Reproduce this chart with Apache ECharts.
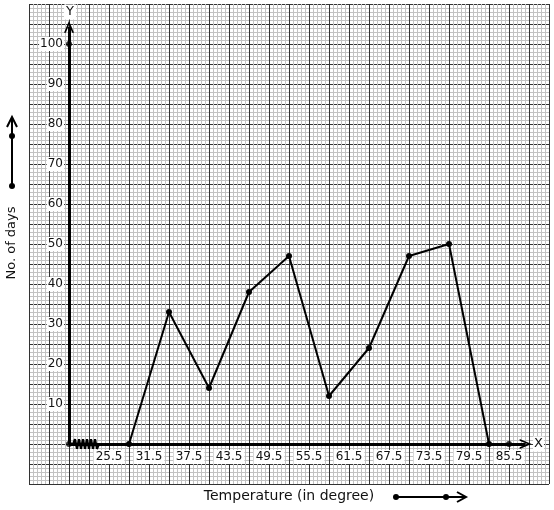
<!DOCTYPE html>
<html><head><meta charset="utf-8">
<script src="https://cdn.jsdelivr.net/npm/echarts@6/dist/echarts.min.js"></script>
<style>html,body{margin:0;padding:0;background:#fff}#c{width:554px;height:510px}</style>
</head><body><div id="c"></div>
<script>
// Frequency polygon data (class marks vs number of days)
const classMarks = [28.5, 34.5, 40.5, 46.5, 52.5, 58.5, 64.5, 70.5, 76.5, 82.5];
const days = [0, 33, 14, 38, 47, 12, 24, 47, 50, 0];
// tick labels
const xTickLabels = [25.5, 31.5, 37.5, 43.5, 49.5, 55.5, 61.5, 67.5, 73.5, 79.5, 85.5];
const yTickLabels = [10, 20, 30, 40, 50, 60, 70, 80, 90, 100];
// extra marked points (origin, 100 on Y, 85.5 on X)
const extraX = [19.5, 19.5, 85.5];
const extraY = [0, 100, 0];
// axis-break zigzag (kink) on the X axis
const breakX = [20.1, 20.4, 20.7, 21.0, 21.3, 21.6, 21.9, 22.2, 22.5, 22.8, 23.1, 23.4, 23.7, 24.0];
const breakY = [0, 1.2, -1.2, 1.2, -1.2, 1.2, -1.2, 1.2, -1.2, 1.2, -1.2, 1.2, -1.2, 0];
// axes drawn from origin
const origin = [19.5, 0];
const xAxisEnd = [88.0, 0];
const yAxisEnd = [19.5, 104.3];

const FONT = 'DejaVu Sans';
const chevron = 'path://M0,12 L5,0 L10,12 L8.2,12 L5,4.2 L1.8,12 Z';
const yRange = {type: 'value', min: -10, max: 110, interval: 5, position: 'left', offset: -40};

const chart = echarts.init(document.getElementById('c'), null, {renderer: 'canvas'});
chart.setOption({
  animation: false,
  backgroundColor: '#fff',
  grid: {left: 29, right: 5, top: 4, bottom: 26, containLabel: false},
  xAxis: {
    type: 'value', min: 13.5, max: 91.5, interval: 3,
    position: 'bottom', offset: -40, z: 2,
    axisLine: {show: false, onZero: false}, axisTick: {show: false},
    axisLabel: {
      customValues: xTickLabels,
      formatter: v => v.toFixed(1),
      fontFamily: FONT, fontSize: 12, color: '#111', margin: 6,
      backgroundColor: '#fff', padding: [1, 2]
    },
    splitLine: {show: true, lineStyle: {color: '#333', width: 1}},
    minorTick: {show: false, splitNumber: 5},
    minorSplitLine: {show: true, lineStyle: {color: '#c2c2c2', width: 1}}
  },
  yAxis: [
    Object.assign({}, yRange, {
      z: 1,
      axisLine: {show: false, onZero: false}, axisTick: {show: false},
      axisLabel: {show: false},
      splitLine: {show: true, lineStyle: {color: '#333', width: 1}},
      minorTick: {show: false, splitNumber: 5},
      minorSplitLine: {show: true, lineStyle: {color: '#c2c2c2', width: 1}}
    }),
    Object.assign({}, yRange, {
      z: 3,
      axisLine: {show: false, onZero: false}, axisTick: {show: false},
      splitLine: {show: false}, minorSplitLine: {show: false},
      axisLabel: {
        customValues: yTickLabels,
        fontFamily: FONT, fontSize: 12, color: '#111', margin: 5,
        backgroundColor: '#fff', padding: [1, 1]
      }
    })
  ],
  series: [
    {
      type: 'line', name: 'axes', data: [], silent: true, z: 5,
      markLine: {
        silent: true, animation: false,
        symbol: ['none', chevron], symbolSize: [10, 12],
        label: {show: false},
        lineStyle: {color: '#000', width: 3, type: 'solid'},
        emphasis: {disabled: true},
        data: [
          [{coord: origin}, {coord: xAxisEnd}],
          [{coord: origin}, {coord: yAxisEnd}]
        ]
      }
    },
    {
      type: 'line', name: 'break', silent: true, z: 6,
      data: breakX.map((x, i) => [x, breakY[i]]),
      showSymbol: false, symbol: 'none',
      lineStyle: {color: '#000', width: 2.2}
    },
    {
      type: 'line', name: 'days', z: 7,
      data: classMarks.map((x, i) => [x, days[i]]),
      symbol: 'circle', symbolSize: 6, showAllSymbol: true,
      itemStyle: {color: '#000'},
      lineStyle: {color: '#000', width: 2}
    },
    {
      type: 'scatter', name: 'marks', z: 8,
      data: extraX.map((x, i) => [x, extraY[i]]),
      symbol: 'circle', symbolSize: 6,
      itemStyle: {color: '#000'}
    }
  ],
  graphic: [
    {type: 'text', x: 70, y: 12, z: 100, style: {text: 'Y', font: '13px "DejaVu Sans"', fill: '#111', align: 'center', verticalAlign: 'middle', backgroundColor: '#fff', padding: [1, 2]}},
    {type: 'text', x: 538.5, y: 444, z: 100, style: {text: 'X', font: '13px "DejaVu Sans"', fill: '#111', align: 'center', verticalAlign: 'middle', backgroundColor: '#fff', padding: [1, 1]}},
    {type: 'text', x: 12, y: 243, rotation: Math.PI / 2, z: 100, style: {text: 'No. of days', font: '13px "DejaVu Sans"', fill: '#111', align: 'center', verticalAlign: 'middle'}},
    {type: 'text', x: 289, y: 496, z: 100, style: {text: 'Temperature (in degree)', font: '14px "DejaVu Sans"', fill: '#111', align: 'center', verticalAlign: 'middle'}},
    // vertical arrow next to Y-axis title
    {type: 'line', shape: {x1: 12, y1: 186, x2: 12, y2: 118}, style: {stroke: '#000', lineWidth: 2}},
    {type: 'polyline', shape: {points: [[7, 127], [12, 117], [17, 127]]}, style: {stroke: '#000', lineWidth: 2, fill: null}},
    {type: 'circle', shape: {cx: 12, cy: 186, r: 3}, style: {fill: '#000'}},
    {type: 'circle', shape: {cx: 12, cy: 136, r: 3}, style: {fill: '#000'}},
    // horizontal arrow next to X-axis title
    {type: 'line', shape: {x1: 396, y1: 497, x2: 465, y2: 497}, style: {stroke: '#000', lineWidth: 2}},
    {type: 'polyline', shape: {points: [[457, 492], [466, 497], [457, 502]]}, style: {stroke: '#000', lineWidth: 2, fill: null}},
    {type: 'circle', shape: {cx: 396, cy: 497, r: 3}, style: {fill: '#000'}},
    {type: 'circle', shape: {cx: 446, cy: 497, r: 3}, style: {fill: '#000'}}
  ]
});
</script>
</body></html>
